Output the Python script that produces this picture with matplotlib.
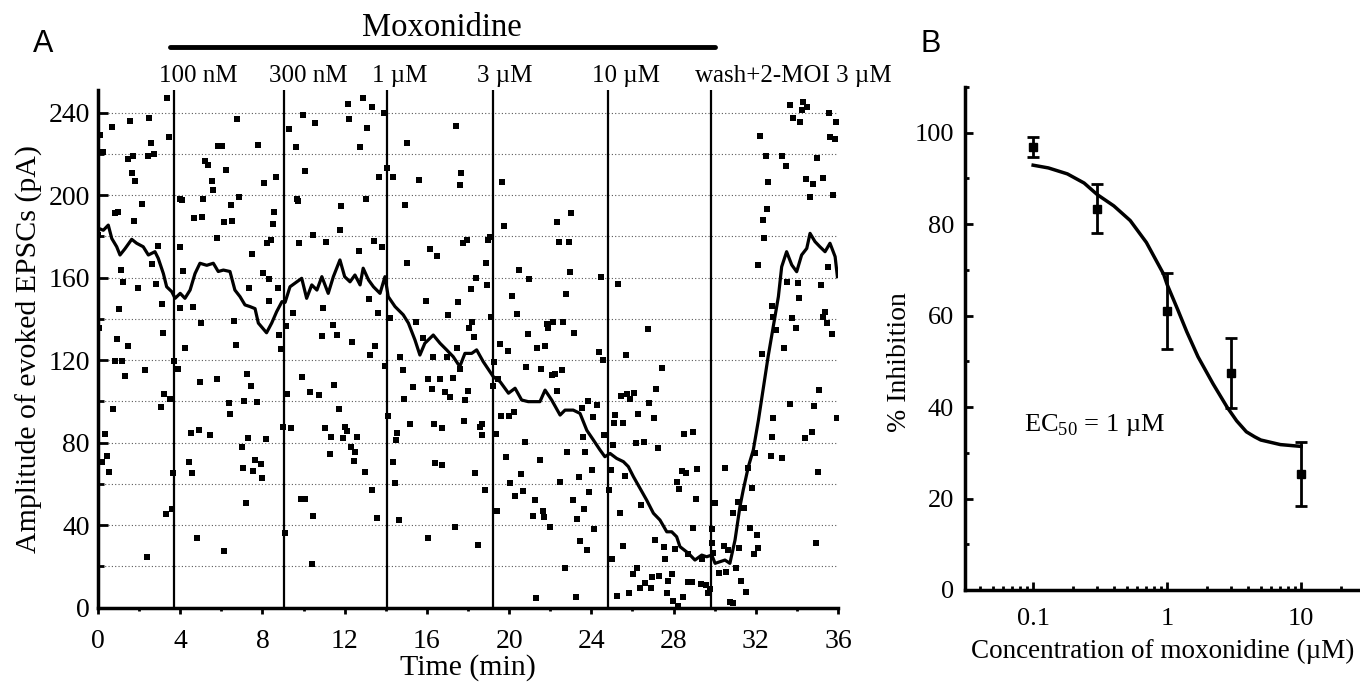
import matplotlib
matplotlib.use("Agg")
import matplotlib.pyplot as plt
from matplotlib.ticker import MultipleLocator, FixedLocator, NullFormatter

plt.rcParams['font.family'] = 'Liberation Serif'
plt.rcParams['mathtext.fontset'] = 'custom'
plt.rcParams['mathtext.rm'] = 'Liberation Serif'

# ---------------- Panel A data ----------------
# single EPSC amplitudes (time in min, amplitude in pA)
scat_t = [
    0.67, 0.1, 0.23, 1.56, 1.48, 1.69, 1.64, 1.82, 2.5, 2.56, 2.42, 2.74, 3.34, 3.43, 3.99,
    5.12, 5.2, 5.37, 5.53, 5.61, 5.85, 6.02, 6.21, 6.75, 6.87, 7.8, 8.08, 8.66, 9.31, 9.63,
    9.67, 9.96, 10.09, 10.54, 12.15, 12.21, 12.88, 13.07, 13.34, 12.75, 13.04, 13.69, 13.91,
    14.07, 14.34, 15.02, 15.62, 17.42, 17.64,
    19.64, 32.2, 33.66, 34.28, 34.23, 34.51, 33.83, 34.15, 35.58, 35.9, 35.61, 35.85, 32.5,
    33.29, 33.45, 34.96, 32.61, 34.42, 34.76, 35.25, 34.64, 35.77,
    0.83, 0.99, 1.77, 2.16, 0.02, 1.12, 1.23, 1.04, 1.96, 2.64, 2.8, 2.93, 0.05, 0.91, 1.44,
    0.83, 1.18, 1.33, 2.3, 3.13, 3.16, 3.23, 3.5, 3.05, 0.75, 4.07, 4.0, 4.15, 3.99, 4.23,
    3.7, 3.91, 4.64, 4.67, 5.04, 5.01, 4.96, 5.78, 5.8, 6.13, 6.5, 6.47, 6.63, 6.7, 7.23,
    7.44, 7.12, 6.36, 6.42, 7.48, 7.35, 7.75, 8.01, 8.33, 8.3, 8.2, 8.4, 8.49, 8.56, 8.74,
    8.82, 8.89, 9.15, 9.21, 9.01, 9.37, 9.71, 9.79, 9.5, 9.91, 10.31, 10.77, 11.04, 10.48,
    11.09, 10.96, 10.9, 11.42, 11.64, 11.5, 11.71, 11.81, 11.77, 12.02, 12.34, 12.7, 13.17,
    13.23, 13.48, 13.43, 13.64, 13.83, 13.96, 14.2, 14.69, 14.82, 14.94, 15.05, 15.31, 15.47,
    15.16, 14.89, 15.79, 15.94, 16.15, 16.48, 16.28, 16.07, 16.64, 16.23, 16.36, 16.72,
    16.88, 17.12, 17.01, 17.45, 17.28, 17.53, 17.6,
    19.75, 19.07, 18.99, 17.74, 17.93, 18.87, 18.94, 18.39, 18.13, 19.1, 18.21, 18.06, 18.29,
    16.96, 17.6, 18.01, 17.87, 17.8, 18.58, 18.67, 20.48, 20.98, 20.15, 20.4, 20.9, 19.56,
    19.97, 19.28, 19.23, 19.48, 20.82, 21.55, 21.37, 21.76, 21.86, 21.88, 22.15, 22.64,
    23.17, 22.07, 22.23, 22.56, 22.32, 22.77, 22.96, 22.43, 22.9, 22.35, 23.03, 19.6, 20.01,
    20.24, 23.53, 23.85, 24.06, 24.26, 24.37, 24.55, 24.49, 25.28, 26.77, 25.69, 27.42,
    27.17, 26.82, 27.05, 26.29, 25.42, 25.74, 26.07, 25.88, 25.15, 25.1, 25.56, 32.12,
    32.34, 32.42, 32.57, 33.5, 34.04, 34.11, 35.17, 35.53, 33.78, 33.96, 32.98, 32.82,
    32.79, 35.37, 35.28, 35.45, 35.72, 33.37, 32.3, 35.09, 33.66, 34.85, 32.82, 35.97,
    0.34, 0.45, 0.54, 0.21, 3.63, 3.58, 3.31, 2.4, 4.51, 4.91, 5.45, 4.44, 4.59, 4.8, 6.13,
    6.99, 7.31, 7.04, 7.2, 7.65, 7.56, 7.93, 7.98, 8.17, 9.1, 9.88, 10.07, 10.44, 10.4,
    11.33, 11.29, 11.94, 12.13, 12.31, 12.45, 12.52, 12.58, 12.99, 13.32, 13.59, 14.09,
    14.34, 14.45, 14.48, 14.56, 14.64, 16.04, 16.39, 16.72, 17.37,
    18.5, 18.34, 18.7, 18.83, 19.36, 19.43, 19.83, 20.04, 20.29, 20.56, 20.69, 20.77, 21.26,
    21.15, 21.5, 21.66, 21.71, 21.99, 21.31, 22.72, 22.5, 22.82, 23.12, 23.25, 23.31, 23.38,
    23.45, 23.66, 23.71, 23.79, 23.58, 23.9, 24.05, 24.11, 24.63, 24.86, 24.94, 24.99,
    25.04, 25.23, 25.52, 25.39, 25.63, 25.85, 26.05, 26.21, 26.17, 26.37, 26.42, 26.56,
    26.63, 26.88, 26.96, 27.1, 27.23, 27.31, 27.52, 27.6, 27.67, 27.75, 27.91, 27.99, 28.07,
    28.18, 28.28, 28.23, 28.39, 28.48, 28.59, 28.53, 28.68, 28.72, 28.88, 28.93, 28.96,
    29.09, 29.15, 29.37, 29.34, 29.58, 29.69, 29.77, 29.87, 29.86, 29.94, 30.04, 30.23,
    30.45, 30.5, 30.55, 30.66, 30.74, 30.88, 30.91, 31.04, 31.15, 31.2, 31.26, 31.31, 31.42,
    31.52, 31.64, 31.72, 31.8, 31.89, 31.96, 32.04, 32.12, 32.74, 32.78, 33.26, 34.4, 34.72,
    34.93, 35.03,
]
scat_amp = [
    233.2, 229.2, 221, 236.1, 217.4, 219, 210.6, 206.9, 237.3, 225.5, 219, 219.8, 247, 228.1, 198,
    198, 216.6, 214.6, 207, 202.5, 223.9, 223.9, 212.2, 237.1, 199, 224.3, 205.8, 209, 231.9, 223.5,
    198, 238.9, 211.9, 235.2, 244.2, 237.1, 247.3, 232.4, 242.9, 223.5, 198, 208.7, 240,
    213, 209, 225.5, 207.4, 233.6, 210.6,
    206.5, 228.7, 243.7, 245.3, 241.3, 242.9, 237.3, 235.7, 240, 235.7, 228.1, 227.1, 219,
    219, 214.2, 217.9, 206.5, 207.7, 205.3, 208.2, 199.3, 200.1,
    191.2, 191.7, 187.6, 195.7, 180.7, 163.7, 157.8, 144.8, 154.9, 166.5, 156.8, 175.5, 135.5, 130.1, 127,
    119.8, 119.8, 112.3, 115.2, 147.1, 133.3, 103.6, 101.2, 97.5, 96.3, 197.7, 174.7, 163.3, 145.2, 125.8,
    119.8, 115.6, 145.9, 188.8, 189.6, 138.2, 109.6, 179.4, 110.7, 187.1, 187.6, 195.2, 139, 127.6, 113.1,
    107.6, 100.4, 99.1, 93.9, 171.3, 154.9, 99.6, 162.4, 159.2, 148.9, 176.9, 178.3, 185.9, 191.7, 154.9,
    132.2, 125.4, 136.7, 103.4, 87.8, 87, 197.3, 176.9, 142.7, 112, 104.7, 103.1, 87, 180.7,
    177.2, 145.2, 131.9, 137.1, 132.2, 108, 96.3, 194.8, 183.1, 87.8, 128.7, 172.9, 149.7,
    122.5, 127, 177.8, 142.7, 175, 117.2, 140.3, 121.7, 115.2, 195.2, 167.3, 107.2, 138.4,
    88.9, 101.1, 130.6, 148.9, 173.7, 170.5, 121.4, 110.7, 110.7, 106, 89.3, 87,
    104.4, 102.3, 141.9, 125.8, 111.5, 148.4, 205,
    185.2, 179.9, 178.3, 176.7, 178.3, 167, 156.5, 159.7, 154.5, 140.8, 138.7, 135.5, 131.2,
    121.7, 115.6, 105.2, 100.7, 90.7, 87.8, 88.9, 163.7, 159.2, 151.1, 142.2, 132.6, 127.7,
    124.6, 119, 107.5, 110.7, 116.5, 115.6, 126.1, 127, 137.6, 135.5, 138.4, 138.4,
    133, 112.8, 113.3, 115.2, 105.1, 152.1, 162.6, 177.4, 177.2, 187.1, 191.2, 92.9, 92.9,
    94.7, 96.7, 100.2, 92.3, 98.3, 123.8, 120.1, 160.5, 156.9, 135.1, 122.5, 116.4,
    105.9, 99.4, 92.1, 93.8, 102.8, 103.4, 103.9, 101.2, 93.4, 89.4, 89.7, 166.2,
    188, 179.1, 193.2, 158, 157.6, 150, 156.5, 165.3, 140.6, 135.8, 134.6, 141.1,
    146.3, 143.5, 141.1, 137.9, 132.7, 125.8, 123, 105.5, 98.6, 97.9, 91.8, 91.8,
    84.1, 73.6, 65.9, 70.5, 65.2, 47.9, 45.3, 24.7, 84.6, 86.2, 83.9, 70.5, 65.2, 33.6, 27.5,
    77.8, 82.4, 67.9, 50.9, 71.6, 66.4, 69.5, 62.7, 81.7, 36.1, 52.7, 52.6, 44.5, 21.2,
    82.6, 74.5, 82.1, 85.7, 78.1, 71.3, 75.6, 82.6, 65.9, 57.1, 43.6, 92.9,
    70.5, 60.3, 81.3, 84.9, 42.5, 33.9, 70, 69.2, 39.1,
    30.4, 65.2, 83.7, 57.1, 84.2, 47, 72.9, 60.3, 54.3, 64.8, 56.6, 80.1, 52.2,
    44.5, 71.6, 47, 44.2, 39.3, 4.5, 19.1, 61.1, 75.3, 52.2, 5, 43, 63.5,
    32.3, 47.7, 75.6, 28, 82.9, 56.3, 66.8, 38.2, 83.7, 57.1, 66.8, 23.8,
    78.9, 5.6, 29.9, 45.8, 63.9, 7.3, 16.3, 19.4, 79.7, 9.7, 49.8, 80.5,
    12.1, 9.7, 15, 32.8, 77.3, 15.4, 29.6, 23.5, 7.3, 13.1, 16.2, 3.2, 28.3,
    61.1, 57.5, 0.8, 66.4, 5, 65.4, 84.1, 25.9, 12.6, 12.6, 85.3, 38.6,
    52.6, 67.1, 23.5, 11.5, 11, 7.3, 8.9, 38, 31.2, 26.7, 50.9, 17,
    29.9, 67.6, 17.5, 28, 2.9, 2.1, 45.8, 19.1, 51.4, 28.8, 12.9, 48.2, 48.5,
    7.5, 67.6, 38.8, 57.9, 25.9, 74.8, 35.2, 29.1, 73.7, 82.6, 72.4, 82.1, 85.3,
    31.5, 65.9,
]

# running average trace
avg_t = [
    0.01, 0.26, 0.5, 0.67, 0.91, 1.07, 1.31, 1.64, 1.88, 2.2, 2.45, 2.77, 2.93, 3.18, 3.34,
    3.59, 3.75, 4.0, 4.23, 4.48, 4.72, 4.96, 5.29, 5.61, 5.85, 6.1, 6.42, 6.66, 6.91, 7.15,
    7.39, 7.64, 7.8, 8.2, 8.45, 8.69, 8.95, 9.1, 9.34, 9.58, 9.91, 10.15, 10.4, 10.65, 10.89,
    11.2, 11.45, 11.77, 12.0, 12.26, 12.5, 12.75, 12.9, 13.16, 13.4, 13.72, 13.96, 14.12,
    14.45, 14.85, 15.1, 15.42, 15.66, 15.9, 16.31, 16.64, 16.96, 17.28, 17.6, 17.85, 18.18,
    18.42, 18.74, 19.23, 19.56, 19.97, 20.29, 20.61, 20.93, 21.26, 21.5, 21.75, 22.07, 22.48,
    22.72, 23.12, 23.45, 23.78, 24.1, 24.42, 24.66, 24.91, 25.23, 25.56, 25.8, 26.05, 26.37,
    26.69, 27.02, 27.34, 27.67, 27.91, 28.15, 28.31, 28.72, 29.04, 29.37, 29.61, 29.86,
    30.02, 30.26, 30.5, 30.74, 30.99, 31.23, 31.39, 31.64, 31.88, 32.13, 32.28, 32.6, 32.85,
    33.1, 33.26, 33.5, 33.75, 33.99, 34.23, 34.48, 34.64, 34.88, 35.12, 35.37, 35.61, 35.86,
    35.97,
]
avg_amp = [
    184, 183, 185.5, 179, 175, 171, 174, 178.6, 176.7, 175, 171, 172.6, 169.4, 162, 155.6,
    153.2, 150, 152.4, 150, 154, 162, 167, 166, 167, 163, 163.7, 163, 154, 150.8, 146.8,
    146, 145, 138, 133.3, 138, 143.5, 148.4, 148, 155.6, 157.3, 159.7, 150, 156.5, 154, 160.5,
    152.4, 160.5, 168.6, 160.5, 158, 161.3, 156.5, 164.6, 158.9, 155.6, 152.4, 160.5, 150.8,
    146, 142, 138, 129.8, 122.5, 128.2, 132.2, 128.2, 125, 121.7, 116.9, 123.3, 123.3,
    125, 119.3, 112, 109.6, 104, 106.4, 100.7, 99.9, 99.9, 99.9, 105.5, 100.7, 93.4,
    95.8, 95.8, 94.2, 86, 81.3, 76.5, 73.2, 74.8, 72.4, 70.8, 68.4, 63.5, 57.9,
    52.2, 45.8, 42.5, 36.8, 36.8, 34.4, 29.6, 26.4, 23.1, 25.5, 24.7, 25.5,
    21.5, 22.3, 23.1, 21.5, 32.8, 49, 57.1, 68.4, 76.5, 91, 100.7, 121.7, 136.2,
    150.8, 165.3, 172.6, 166.2, 162.9, 171, 174.2, 181.5, 177.5, 175, 172.6, 176.7, 170.2,
    160.5,
]

# drug application times (min) and labels
drug_t = [3.7, 9.05, 14.05, 19.2, 24.8, 29.8]
drug_labels = ["100 nM", "300 nM", "1 \u00b5M", "3 \u00b5M", "10 \u00b5M", "wash+2-MOI 3 \u00b5M"]
moxo_span = [3.5, 30.0]

# ---------------- Panel B data ----------------
conc = [0.1, 0.3, 1, 3, 10]
inhib = [96.8, 83.4, 61.0, 47.5, 25.3]
inhib_err = [2.2, 5.3, 8.3, 7.7, 7.0]
fit_conc = [0.1, 0.13, 0.18, 0.24, 0.3, 0.4, 0.53, 0.7, 0.94, 1.0, 1.2, 1.4, 1.7, 2.2,
            2.8, 3.3, 3.9, 4.5, 5, 7, 10]
fit_inhib = [92.9, 92.3, 91.0, 89.0, 86.5, 84.0, 80.8, 76.0, 69.1, 66.8, 61.3, 56.5, 51.0, 45.1,
             40.0, 37.0, 34.6, 33.5, 32.8, 31.8, 31.4]

fig = plt.figure(figsize=(13.6, 6.84), dpi=100)
axA = fig.add_axes([98 / 1360, (684 - 607.7) / 684, 740 / 1360, (607.7 - 90) / 684])
axB = fig.add_axes([965 / 1360, (684 - 590) / 684, 395 / 1360, (590 - 87) / 684])

# Panel A
axA.scatter(scat_t, scat_amp, marker='s', s=15, color='black', linewidths=0, zorder=3)
axA.plot(avg_t, avg_amp, color='black', lw=2.3, zorder=4)
for t in drug_t:
    axA.axvline(t, color='black', lw=1.6, zorder=2)
for t, lab in zip(drug_t, drug_labels):
    axA.annotate(lab, xy=(t, 258), xytext=(-11, 0), textcoords='offset points',
                 ha='left', va='center', fontsize=18, annotation_clip=False)
axA.plot(moxo_span, [272, 272], color='black', lw=3.5, clip_on=False, solid_capstyle='round')
axA.text(sum(moxo_span) / 2, 281, "Moxonidine", ha='center', va='center', fontsize=23.5)

axA.set_xlim(0, 36)
axA.set_ylim(0, 251)
axA.xaxis.set_major_locator(MultipleLocator(4))
axA.xaxis.set_minor_locator(MultipleLocator(2))
axA.yaxis.set_major_locator(MultipleLocator(40))
axA.yaxis.set_minor_locator(MultipleLocator(20))
axA.grid(axis='y', which='both', linestyle=(0, (1, 2)), color='0.35', lw=0.8)
axA.set_axisbelow(True)
axA.tick_params(axis='x', which='major', direction='out', length=4.5, width=2, labelsize=20, pad=11)
axA.tick_params(axis='x', which='minor', direction='out', length=2.5, width=2)
axA.tick_params(axis='y', which='major', direction='in', length=7, width=2, labelsize=20, pad=6)
axA.tick_params(axis='y', which='minor', direction='in', length=4, width=2)
axA.set_xlabel("Time (min)", fontsize=21.5, labelpad=0)
axA.set_ylabel("Amplitude of evoked EPSCs (pA)", fontsize=21.5, labelpad=4)
for side in ['top', 'right']:
    axA.spines[side].set_visible(False)
for side in ['left', 'bottom']:
    axA.spines[side].set_linewidth(2.5)

# Panel B
axB.errorbar(conc, inhib, yerr=inhib_err, fmt='s', color='black', ms=6,
             elinewidth=2, capsize=4, capthick=2, zorder=3)
axB.plot(fit_conc, fit_inhib, color='black', lw=2.5)
axB.text(0.085, 36, "EC$_{50}$ = 1 \u00b5M", fontsize=19, ha='left', va='center')

axB.set_xscale('log')
axB.set_xlim(0.031, 27.5)
axB.set_ylim(0, 110)
axB.xaxis.set_major_locator(FixedLocator([0.1, 1, 10]))
axB.set_xticklabels(["0.1", "1", "10"])
axB.xaxis.set_minor_locator(FixedLocator([0.04, 0.05, 0.06, 0.07, 0.08, 0.09,
                                          0.2, 0.3, 0.4, 0.5, 0.6, 0.7, 0.8, 0.9,
                                          2, 3, 4, 5, 6, 7, 8, 9, 20]))
axB.xaxis.set_minor_formatter(NullFormatter())
axB.yaxis.set_major_locator(MultipleLocator(20))
axB.yaxis.set_minor_locator(MultipleLocator(10))
axB.tick_params(axis='x', which='major', direction='in', length=6, width=2, labelsize=19, pad=13)
axB.tick_params(axis='y', which='major', direction='in', length=6, width=2, labelsize=19, pad=8)
axB.tick_params(axis='both', which='minor', direction='in', length=3, width=2)
axB.set_xlabel("Concentration of moxonidine (\u00b5M)", fontsize=19.5, labelpad=6)
axB.set_ylabel("% Inhibition", fontsize=20)
axB.yaxis.set_label_coords(-0.134, 0.453)
for side in ['top', 'right']:
    axB.spines[side].set_visible(False)
for side in ['left', 'bottom']:
    axB.spines[side].set_linewidth(2.5)

fig.text(43 / 1360, 1 - 44 / 684, "A", family='Liberation Sans', fontsize=22, ha='center', va='center')
fig.text(931 / 1360, 1 - 44 / 684, "B", family='Liberation Sans', fontsize=22, ha='center', va='center')

fig.savefig("out.png", dpi=100)
